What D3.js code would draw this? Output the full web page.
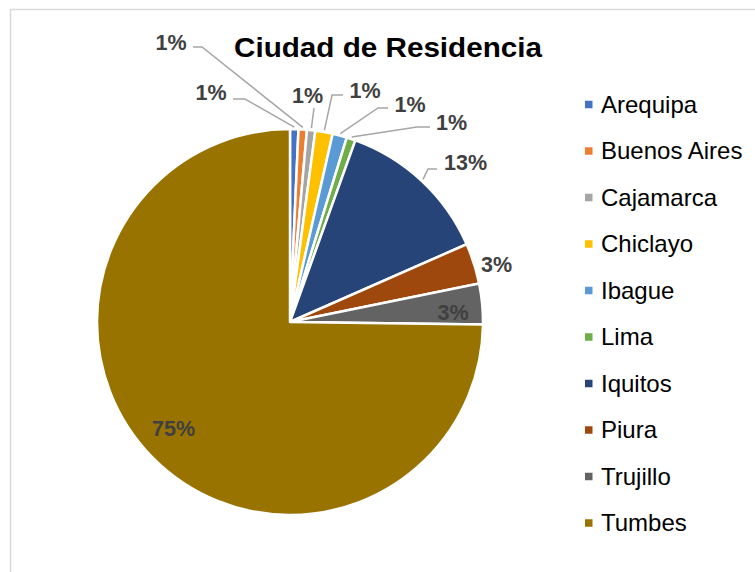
<!DOCTYPE html>
<html><head><meta charset="utf-8">
<script src="https://cdn.jsdelivr.net/npm/d3@7"></script>
<style>html,body{margin:0;padding:0;background:#fff;}svg{display:block;font-family:"Liberation Sans",Arial,sans-serif;}</style>
</head><body>
<svg id="chart" width="755" height="572"></svg>
<script>
const categories = ["Arequipa","Buenos Aires","Cajamarca","Chiclayo","Ibague","Lima","Iquitos","Piura","Trujillo","Tumbes"];
const values = [0.7, 0.7, 0.7, 1.45, 1.2, 0.75, 12.9, 3.4, 3.4, 74.8];
const colors = ["#4472C4","#ED7D31","#A5A5A5","#FFC000","#5B9BD5","#70AD47","#264478","#9E480E","#636363","#997300"];
const title = "Ciudad de Residencia";

// label layout (text centre x, baseline y, optional elbow / end of leader)
const labelLayout = [
  {x:211, y:100, elbow:[245,99], end:[233,99]},
  {x:171, y:50,  elbow:[202,47], end:[193,47]},
  {x:307.5, y:103, elbow:[314,108], end:[314,108]},
  {x:365, y:98,  elbow:[332,95], end:[343,95]},
  {x:410, y:112, elbow:[378,108], end:[388,108]},
  {x:451.5, y:130, elbow:[417,127], end:[430,127]},
  {x:465.5, y:170, elbow:[428,169], end:[437,169]},
  {x:496.5, y:272},
  {x:453, y:320},
  {x:173.5, y:436}
];

const svg = d3.select("#chart");
const cx = 290, cy = 322, R = 193;

svg.append("rect").attr("x",10.5).attr("y",9.5).attr("width",800).attr("height",600)
  .attr("fill","#fff").attr("stroke","#d9d9d9").attr("stroke-width",1.5);

svg.append("text").attr("x",388).attr("y",57).attr("text-anchor","middle")
  .attr("font-size",27.5).attr("font-weight","bold").attr("fill","#000")
  .attr("textLength",308).attr("lengthAdjust","spacingAndGlyphs").text(title);

const data = categories.map((c,i)=>({name:c, value:values[i], color:colors[i]}));
const total = d3.sum(values);
const pie = d3.pie().sort(null).value(d=>d.value);
const arcs = pie(data);
const arc = d3.arc().innerRadius(0).outerRadius(R);
const g = svg.append("g").attr("transform",`translate(${cx},${cy})`);

g.selectAll("path").data(arcs).join("path")
  .attr("d",arc).attr("fill",d=>d.data.color)
  .attr("stroke","#fff").attr("stroke-width",2.5).attr("stroke-linejoin","round");

const fmt = d3.format(".0%");
// leader lines
arcs.forEach((a,i)=>{
  const L = labelLayout[i];
  if(!L.elbow) return;
  const mid = (a.startAngle+a.endAngle)/2;
  const px = cx + (R+2)*Math.sin(mid), py = cy - (R+2)*Math.cos(mid);
  svg.append("polyline")
    .attr("points",`${px},${py} ${L.elbow[0]},${L.elbow[1]} ${L.end[0]},${L.end[1]}`)
    .attr("fill","none").attr("stroke","#a6a6a6").attr("stroke-width",1.5);
});
arcs.forEach((a,i)=>{
  const L = labelLayout[i];
  svg.append("text").attr("x",L.x).attr("y",L.y).attr("text-anchor","middle")
    .attr("font-size",21.5).attr("font-weight","bold").attr("fill","#404040")
    .text(fmt(a.data.value/total));
});

// legend
const lg = svg.append("g");
const legY = d3.scaleLinear().domain([0, categories.length-1]).range([104.5, 104.5+9*46.5]);
categories.forEach((c,i)=>{
  lg.append("rect").attr("x",585).attr("y",legY(i)-3.75).attr("width",7.5).attr("height",7.5).attr("fill",colors[i]);
  lg.append("text").attr("x",601).attr("y",legY(i)+8).attr("font-size",24).attr("fill","#000").text(c);
});
</script>
</body></html>
